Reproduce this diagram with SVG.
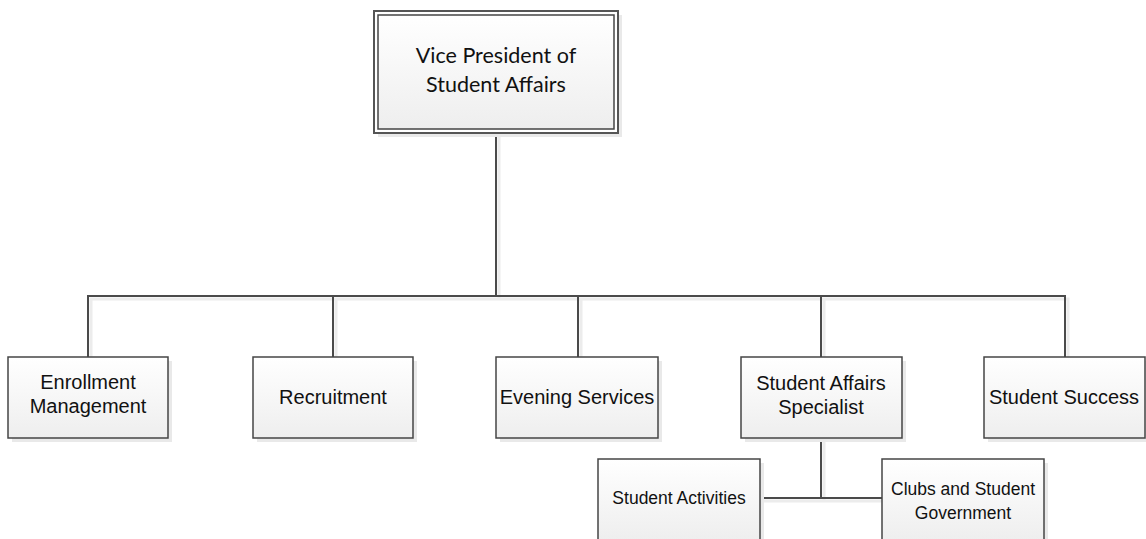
<svg xmlns="http://www.w3.org/2000/svg" width="1146" height="539" viewBox="0 0 1146 539">
<defs>
<linearGradient id="g" x1="0" y1="0" x2="0" y2="1">
<stop offset="0" stop-color="#ffffff"/>
<stop offset="1" stop-color="#eeeeee"/>
</linearGradient>
<style>
.sh{fill:#e9e9e9;stroke:none}
.box{fill:url(#g);stroke:#454545;stroke-width:1.5}
.cn{fill:none;stroke:#4a4a4a;stroke-width:2}
.cs{fill:none;stroke:#ececec;stroke-width:3}
.t{font-family:"Liberation Sans",Arial,sans-serif;font-size:20px;fill:#111;text-anchor:middle}
.ts{font-family:"Liberation Sans",Arial,sans-serif;font-size:17.5px;fill:#111;text-anchor:middle}
.tt{font-family:Lato,"Open Sans",sans-serif;font-size:21.5px;fill:#111;text-anchor:middle}
</style>
</defs>
<rect width="1146" height="539" fill="#ffffff"/>
<g id="connectors">
<path class="cs" d="M499 136V299M91 360V299H1068V360M336 299V360M581 299V360M824 299V360M824 441V501M763 501H885"/>
<path class="cn" d="M496 133V296M88 357V296H1065V357M333 296V357M578 296V357M821 296V357M821 438V498M760 498H882"/>
</g>
<g id="vp">
<rect class="sh" x="378" y="15" width="244" height="122"/>
<rect x="374" y="11" width="244" height="122" fill="#ffffff" stroke="#555" stroke-width="2"/>
<rect class="box" x="378" y="15" width="236" height="114" stroke-width="2" stroke="#555"/>
<text class="tt" x="496" y="63">Vice President of</text>
<text class="tt" x="496" y="92">Student Affairs</text>
</g>
<g id="enrollment">
<rect class="sh" x="12" y="361" width="160" height="81"/>
<rect class="box" x="8" y="357" width="160" height="81"/>
<text class="t" x="88" y="389">Enrollment</text>
<text class="t" x="88" y="413">Management</text>
</g>
<g id="recruitment">
<rect class="sh" x="257" y="361" width="160" height="81"/>
<rect class="box" x="253" y="357" width="160" height="81"/>
<text class="t" x="333" y="404">Recruitment</text>
</g>
<g id="evening">
<rect class="sh" x="500" y="361" width="162" height="81"/>
<rect class="box" x="496" y="357" width="162" height="81"/>
<text class="t" x="577" y="404">Evening Services</text>
</g>
<g id="specialist">
<rect class="sh" x="745" y="361" width="161" height="81"/>
<rect class="box" x="741" y="357" width="161" height="81"/>
<text class="t" x="821" y="390">Student Affairs</text>
<text class="t" x="821" y="414">Specialist</text>
</g>
<g id="success">
<rect class="sh" x="988" y="361" width="161" height="81"/>
<rect class="box" x="984" y="357" width="161" height="81"/>
<text class="t" x="1064" y="404">Student Success</text>
</g>
<g id="activities">
<rect class="sh" x="602" y="463" width="162" height="82"/>
<rect class="box" x="598" y="459" width="162" height="82"/>
<text class="ts" x="679" y="504">Student Activities</text>
</g>
<g id="clubs">
<rect class="sh" x="886" y="463" width="162" height="82"/>
<rect class="box" x="882" y="459" width="162" height="82"/>
<text class="ts" x="963" y="495">Clubs and Student</text>
<text class="ts" x="963" y="519">Government</text>
</g>
</svg>
